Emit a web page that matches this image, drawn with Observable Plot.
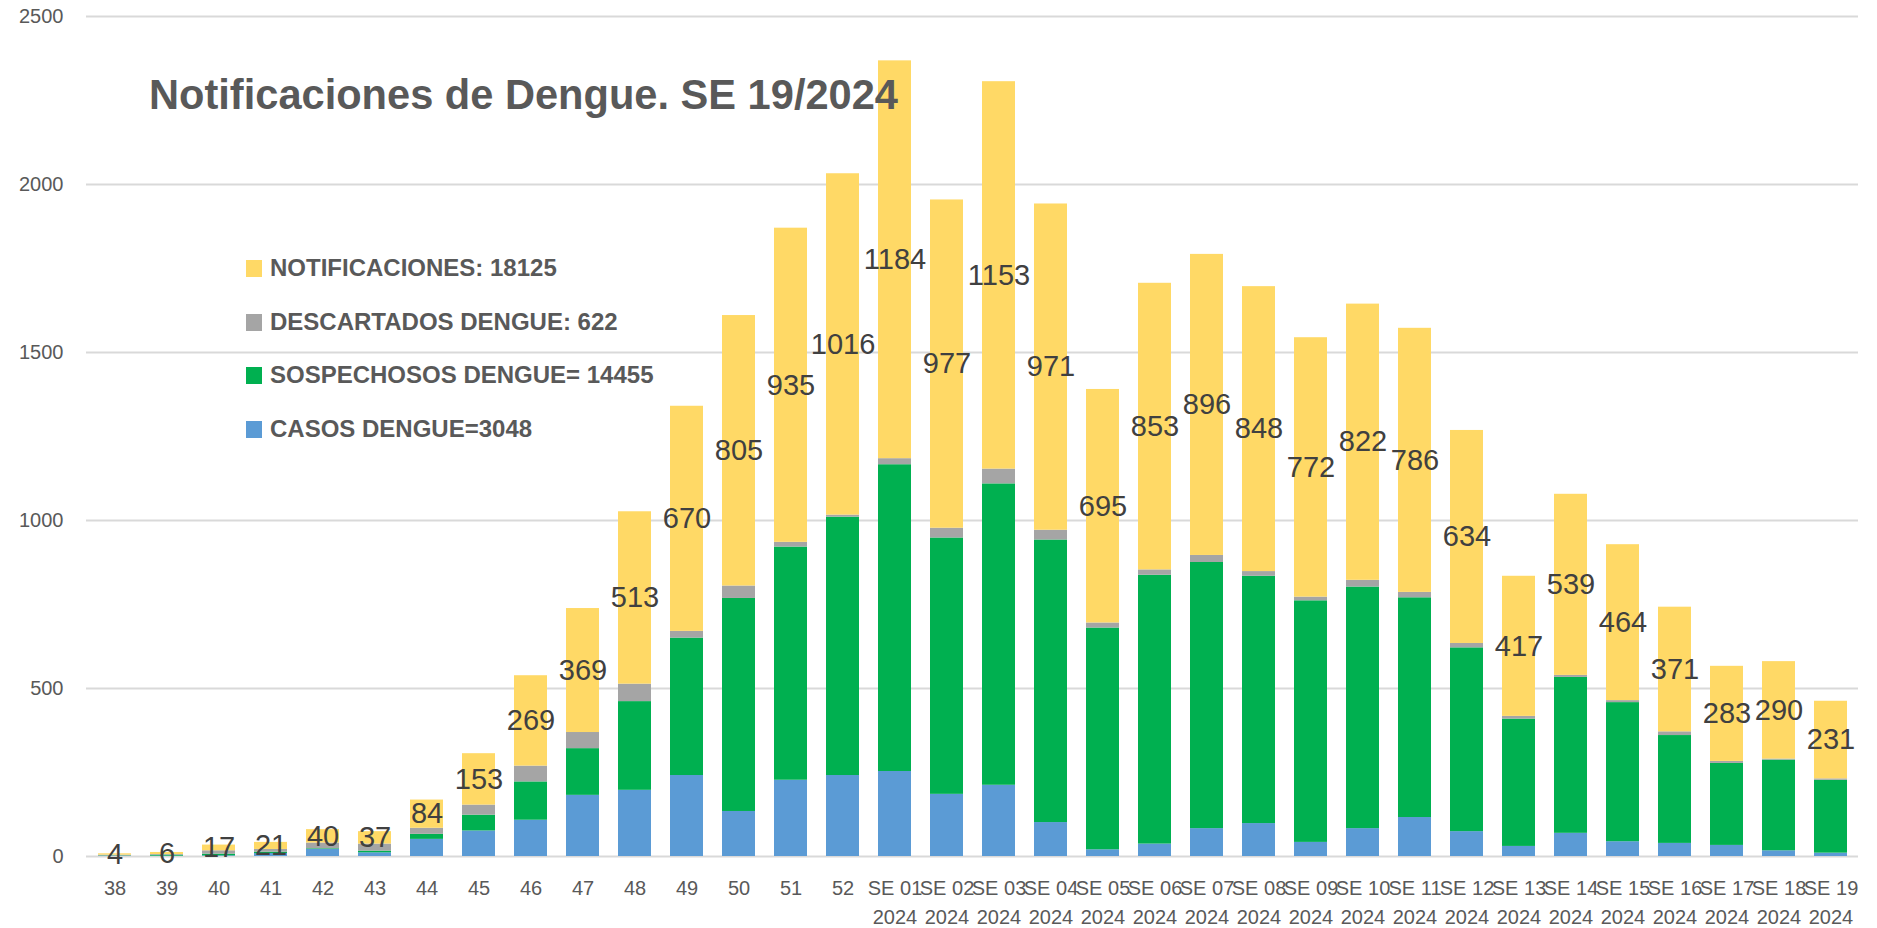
<!DOCTYPE html>
<html><head><meta charset="utf-8">
<script src="https://cdn.jsdelivr.net/npm/d3@7"></script>
<script src="https://cdn.jsdelivr.net/npm/@observablehq/plot@0.6"></script>
<style>
body{margin:0;background:#fff;}
#wrap{position:relative;width:1877px;height:928px;font-family:"Liberation Sans",Arial,sans-serif;color:#595959;}
#title{position:absolute;left:149px;top:74px;font-weight:bold;font-size:41.6px;line-height:1;color:#595959;white-space:nowrap;}
.leg{position:absolute;left:246px;font-weight:bold;font-size:24px;line-height:1;color:#595959;display:flex;align-items:center;white-space:nowrap;}
.sw{width:16px;height:17px;margin-right:8px;}
</style></head>
<body>
<div id="wrap"></div>
<script>
const weeks = ["38","39","40","41","42","43","44","45","46","47","48","49","50","51","52",
  "SE 01\n2024","SE 02\n2024","SE 03\n2024","SE 04\n2024","SE 05\n2024","SE 06\n2024","SE 07\n2024",
  "SE 08\n2024","SE 09\n2024","SE 10\n2024","SE 11\n2024","SE 12\n2024","SE 13\n2024","SE 14\n2024",
  "SE 15\n2024","SE 16\n2024","SE 17\n2024","SE 18\n2024","SE 19\n2024"];
const casos = [1,1,2,9,21,11,51,76,108,182,197,241,134,227,241,
  253,185,212,101,20,37,83,98,42,83,116,74,30,69,44,39,33,17,10];
const sospechosos = [1,3,5,4,2,5,15,47,114,139,264,409,634,694,769,
  913,763,897,841,660,800,792,736,719,719,654,547,379,464,414,321,244,270,217];
const descartados = [2,2,10,8,17,21,18,30,47,48,52,20,37,14,6,
  18,29,44,29,15,16,21,14,11,20,16,13,8,6,6,11,6,3,4];
const notificaciones = [4,6,17,21,40,37,84,153,269,369,513,670,805,935,1016,
  1184,977,1153,971,695,853,896,848,772,822,786,634,417,539,464,371,283,290,231];
const seriesNames = ["CASOS DENGUE=3048","SOSPECHOSOS DENGUE= 14455","DESCARTADOS DENGUE: 622","NOTIFICACIONES: 18125"];
const seriesColors = ["#5B9BD5","#00B050","#A5A5A5","#FFD966"];
const yTicks = [0,500,1000,1500,2000,2500];
const chartTitle = "Notificaciones de Dengue. SE 19/2024";

const rows = [];
weeks.forEach((w,i) => {
  [casos, sospechosos, descartados, notificaciones].forEach((arr,k) => {
    rows.push({week: w, series: seriesNames[k], value: arr[i]});
  });
});
const labels = weeks.map((w,i) => ({
  week: w,
  n: notificaciones[i],
  mid: casos[i] + sospechosos[i] + descartados[i] + notificaciones[i] / 2
}));

const chart = Plot.plot({
  width: 1877,
  height: 928,
  marginLeft: 86,
  marginRight: 19,
  marginTop: 16,
  marginBottom: 72,
  style: {fontFamily: "Liberation Sans, Arial, sans-serif", fontSize: "20px", color: "#595959", background: "#fff"},
  x: {domain: weeks, paddingInner: 0.37, paddingOuter: 0.185, label: null},
  y: {domain: [0, 2500], label: null},
  color: {domain: seriesNames, range: seriesColors},
  marks: [
    Plot.ruleY(yTicks, {stroke: "#d9d9d9", strokeWidth: 2}),
    Plot.barY(rows, {x: "week", y: "value", fill: "series", order: seriesNames}),
    Plot.axisY({ticks: yTicks, tickSize: 0, tickPadding: 23, tickFormat: d => String(d), fontSize: 20, label: null}),
    Plot.axisX({tickSize: 0, tickPadding: 24, fontSize: 20, lineAnchor: "top", tickFormat: d => d.split("\n")[0], label: null}),
    Plot.axisX({tickSize: 0, tickPadding: 53, fontSize: 20, lineAnchor: "top", tickFormat: d => d.split("\n")[1] || "", label: null}),
    Plot.text(labels, {x: "week", y: "mid", text: d => String(d.n), fill: "#404040", fontSize: 29})
  ]
});

const wrap = document.getElementById("wrap");
wrap.appendChild(chart);
const t = document.createElement("div");
t.id = "title";
t.textContent = chartTitle;
wrap.appendChild(t);
const legTops = [256, 310, 363, 417];
[3,2,1,0].forEach((k, j) => {
  const d = document.createElement("div");
  d.className = "leg";
  d.style.top = legTops[j] + "px";
  const sw = document.createElement("span");
  sw.className = "sw";
  sw.style.background = seriesColors[k];
  d.appendChild(sw);
  d.appendChild(document.createTextNode(seriesNames[k]));
  wrap.appendChild(d);
});
</script>
</body></html>
